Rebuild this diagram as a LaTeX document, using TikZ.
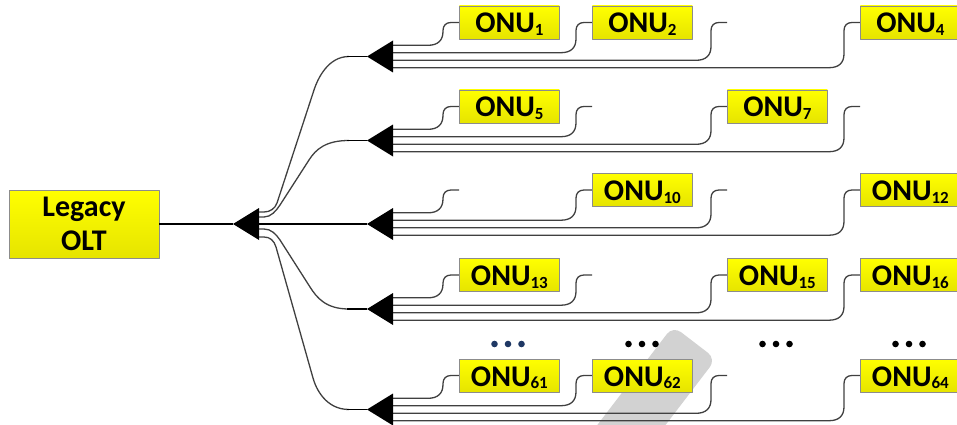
\documentclass[tikz,border=0pt]{standalone}
\usepackage{fontspec}
\setmainfont{Carlito}
\usetikzlibrary{calc}

\definecolor{fibregray}{RGB}{64,64,64}
\definecolor{boxedge}{RGB}{140,140,140}
\definecolor{yellowtop}{RGB}{255,255,0}
\definecolor{yellowbot}{RGB}{230,228,0}
\definecolor{markgray}{RGB}{210,210,210}
\definecolor{navydots}{RGB}{31,56,100}

% ONU label with a lowered index
\newcommand\onulabel[1]{ONU\raisebox{-2.8pt}{\fontsize{17}{17}\selectfont#1}}

\tikzset{
  yellowbox/.style={draw=boxedge, line width=0.8pt, top color=yellowtop,
    bottom color=yellowbot, inner sep=0pt,
    font=\fontsize{30}{34}\selectfont\bfseries},
  onubox/.style={yellowbox, minimum width=100pt, minimum height=33pt,
    text height=21pt, text depth=0pt, anchor=west},
  oltbox/.style={yellowbox, minimum width=150pt, minimum height=68pt, align=center},
  fibre/.style={draw=fibregray, line width=1.3pt},
  feed/.style={draw=black, line width=1.5pt},
  splitter/.style={fill=black},
}

\begin{document}
\begin{tikzpicture}[x=1pt,y=-1pt,line cap=butt,line join=round]
\useasboundingbox (0,0) rectangle (957,425);
\clip (0,0) rectangle (957,425);

% light grey band in the lower middle
\fill[markgray, rounded corners=10pt] (673,326) -- (716,359) -- (625,478) -- (582,445) -- cycle;

% OLT and first splitter
\node[oltbox] (olt) at (84,224) {Legacy\\OLT};
\coordinate (s0) at (233,224);

% second-level splitters (tips)
\coordinate (s1) at (367,56.5);
\coordinate (s2) at (367,140.5);
\coordinate (s3) at (367,224);
\coordinate (s4) at (367,309);
\coordinate (s5) at (367,409.5);

\draw[feed] (olt.east) -- (s0);

% fibres from the first splitter to the second-level splitters
\draw[fibre] ($(s0)+(26,-12)$) -- (264,212) .. controls (270,212) and (275,208.6) .. (277,203)
  -- (314,90) .. controls (317.7,78.7) and (328,56.5) .. (349,56.5);
\draw[fibre] ($(s0)+(26,-7)$) -- (264,217) .. controls (271,217) and (276,211) .. (280,205)
  -- (309,160) .. controls (316,149) and (326,140.5) .. (349,140.5);
\draw[fibre] ($(s0)+(26,5)$) -- (264,229) .. controls (271,229) and (276,234) .. (280,240)
  -- (310,287) .. controls (317,298) and (326,309) .. (349,309);
\draw[fibre] ($(s0)+(26,13)$) -- (264,237) .. controls (270,237) and (274,240.5) .. (276,247)
  -- (313,378) .. controls (316,389) and (326,409.5) .. (349,409.5);
\draw[feed] ($(s0)+(26,0)$) -- (s3);
\foreach \rw in {1,2,4,5}{
  \draw[feed] ($(s\rw)+(-20,0)$) -- (s\rw);
}
\fill[splitter] (s0) -- ++(26,-16) -- ++(0,32) -- cycle;

% rows of ONUs
\foreach \rw/\la/\lb/\lc/\ld in {1/1/2//4, 2/5//7/, 3//10//12, 4/13//15/16, 5/61/62//64}{
  \foreach \cl/\cx/\off/\lab in {1/459/-11.2/\la, 2/592/-3.8/\lb, 3/727/3.8/\lc, 4/860/11.2/\ld}{
    \coordinate (r\rw c\cl) at ($(s\rw)+(\cx-367,-34)$);
    \draw[fibre] let \p1=($(s\rw)+(26,\off)$), \p2=(r\rw c\cl) in
      (\p1) -- (\x2-31pt,\y1)
      .. controls (\x2-21pt,\y1) and (\x2-16pt,\y1+5pt) .. (\x2-16pt,\y1+14pt)
      -- (\x2-16pt,\y2-8pt)
      .. controls (\x2-16pt,\y2-3pt) and (\x2-13pt,\y2) .. (\x2-8pt,\y2)
      -- (\p2);
    \edef\tmplab{\lab}
    \ifx\tmplab\empty\else
      \node[onubox] (u\rw c\cl) at (r\rw c\cl) {\onulabel{\tmplab}};
    \fi
  }
  \fill[splitter] (s\rw) -- ++(26,-16) -- ++(0,32) -- cycle;
}

% ellipsis dots between the rows
\foreach \dx/\dc in {508/navydots, 642/black, 776/black, 909/black}{
  \foreach \k in {-13.5,0,13.5}{
    \fill[\dc] (\dx+\k,344) circle (3.3pt);
  }
}
\end{tikzpicture}
\end{document}
